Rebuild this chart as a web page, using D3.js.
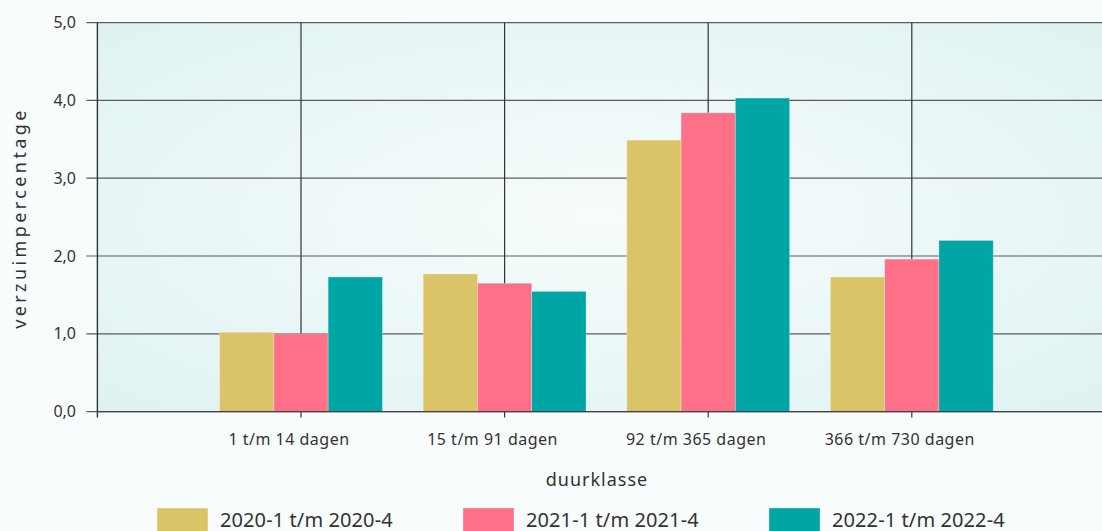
<!DOCTYPE html>
<html><head><meta charset="utf-8">
<script src="https://cdn.jsdelivr.net/npm/d3@7/dist/d3.min.js"></script>
<style>
html,body{margin:0;padding:0;background:#f8fcfd;}
svg{display:block;font-family:"Noto Sans",sans-serif;}
</style></head><body>
<svg id="c" width="1102" height="531"></svg>
<script>
const categories = ["1 t/m 14 dagen","15 t/m 91 dagen","92 t/m 365 dagen","366 t/m 730 dagen"];
const seriesNames = ["2020-1 t/m 2020-4","2021-1 t/m 2021-4","2022-1 t/m 2022-4"];
const s2020 = [1.02, 1.77, 3.49, 1.73];
const s2021 = [1.00, 1.65, 3.84, 1.96];
const s2022 = [1.73, 1.545, 4.03, 2.20];
const yTicks = [0,1,2,3,4,5];
const colors = ["#dbc468","#fd7088","#00a5a6"];
const series = [s2020, s2021, s2022];

(function(){
const W=1102,H=531;
const pL=97.4, pT=22.6, pB=411.6, step=203.6;
const svg=d3.select("#c");
const defs=svg.append("defs");
const g1=defs.append("radialGradient").attr("id","bg").attr("cx","50%").attr("cy","50%").attr("r","70%");
g1.append("stop").attr("offset","0%").attr("stop-color","#f7fcfc");
g1.append("stop").attr("offset","100%").attr("stop-color","#e0f2f2");

const x=d3.scalePoint().domain(categories).range([pL+step, pL+4*step]);
const y=d3.scaleLinear().domain([0,5]).range([pB, pT]);

svg.append("rect").attr("x",pL).attr("y",pT).attr("width",W-pL).attr("height",pB-pT).attr("fill","url(#bg)");

svg.append("g").selectAll("line").data(yTicks).join("line")
  .attr("x1",pL-11).attr("x2",W).attr("y1",d=>y(d)).attr("y2",d=>y(d))
  .attr("stroke","#5c5c5c").attr("stroke-width",1.2);
svg.append("g").selectAll("line").data(categories).join("line")
  .attr("x1",d=>x(d)).attr("x2",d=>x(d)).attr("y1",pT).attr("y2",pB+6)
  .attr("stroke","#333").attr("stroke-width",1.2);
svg.append("line").attr("x1",pL).attr("x2",pL).attr("y1",pT).attr("y2",pB+6).attr("stroke","#333").attr("stroke-width",1.4);

const inner=d3.scaleBand().domain(d3.range(3)).range([-step*0.4, step*0.4]).padding(0);
series.forEach((s,si)=>{
  svg.append("g").selectAll("rect").data(s).join("rect")
    .attr("x",(d,i)=>x(categories[i])+inner(si))
    .attr("width",inner.bandwidth())
    .attr("y",d=>y(d)).attr("height",d=>y(0)-y(d))
    .attr("fill",colors[si]).attr("stroke","rgba(255,255,255,0.35)").attr("stroke-width",0.8);
});
svg.append("line").attr("x1",pL).attr("x2",W).attr("y1",pB).attr("y2",pB).attr("stroke","#444").attr("stroke-width",1.4);

svg.append("g").selectAll("text").data(yTicks).join("text")
  .attr("x",76).attr("y",d=>y(d)).attr("dy","0.35em").attr("text-anchor","end")
  .attr("font-size",16).attr("fill","#333").text(d=>d.toFixed(1).replace(".",","));
svg.append("g").selectAll("text").data(categories).join("text")
  .attr("x",d=>x(d)-12).attr("y",439).attr("dy","0.35em").attr("text-anchor","middle")
  .attr("font-size",16).attr("fill","#333").attr("letter-spacing",0.5).text(d=>d);
svg.append("text").attr("x",597).attr("y",480).attr("dy","0.35em").attr("text-anchor","middle")
  .attr("font-size",18).attr("fill","#333").attr("letter-spacing",1).text("duurklasse");
svg.append("text").attr("transform","translate(20,218) rotate(-90)").attr("dy","0.35em").attr("text-anchor","middle")
  .attr("font-size",18).attr("fill","#333").attr("letter-spacing",3.4).text("verzuimpercentage");

const lg=svg.append("g").selectAll("g").data(seriesNames).join("g")
  .attr("transform",(d,i)=>`translate(${157+i*306},508)`);
lg.append("rect").attr("width",51).attr("height",26).attr("fill",(d,i)=>colors[i]).attr("stroke","rgba(255,255,255,0.35)");
lg.append("text").attr("x",63).attr("y",11.5).attr("dy","0.35em").attr("font-size",20).attr("fill","#333").attr("letter-spacing",0.1).text(d=>d);
})();
</script></body></html>
